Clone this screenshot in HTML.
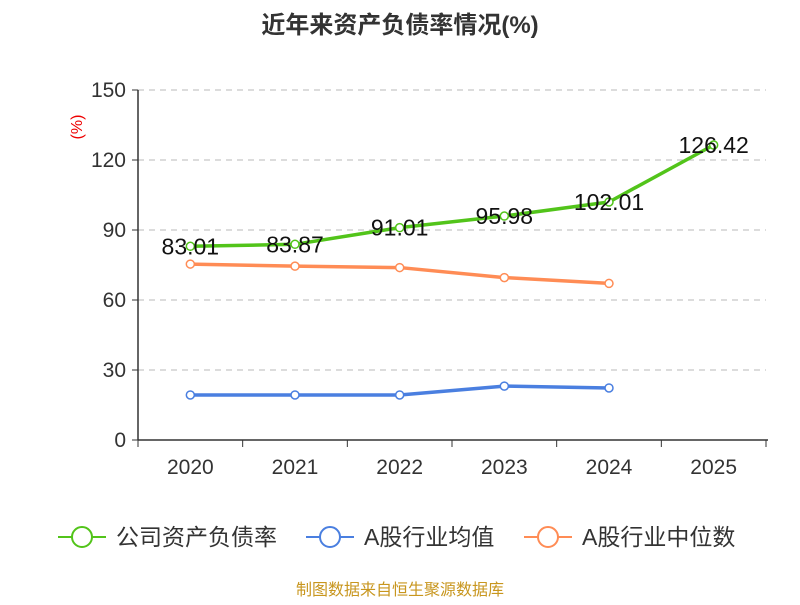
<!DOCTYPE html>
<html><head><meta charset="utf-8"><style>
body{margin:0;background:#fff;font-family:"Liberation Sans","Noto Sans CJK SC",sans-serif}
</style></head><body>
<svg id="c" width="800" height="600" xmlns="http://www.w3.org/2000/svg">
<text x="400" y="33" text-anchor="middle" font-size="24" font-weight="bold" fill="#333" font-family="Liberation Sans,Noto Sans CJK SC,sans-serif">近年来资产负债率情况(%)</text>
<text x="82" y="127" transform="rotate(-90 82 127)" text-anchor="middle" font-size="16" fill="#e00">(%)</text>
<g id="grid"></g><g id="axes"></g><g id="series"></g>
<g font-size="23" fill="#333" font-family="Liberation Sans,Noto Sans CJK SC,sans-serif">
<g><line x1="58" y1="537" x2="106" y2="537" stroke="#52c41a" stroke-width="2"/><circle cx="82" cy="537" r="10" fill="#fff" stroke="#52c41a" stroke-width="2"/><text x="116" y="545">公司资产负债率</text></g>
<g><line x1="306" y1="537" x2="354" y2="537" stroke="#4a7fe0" stroke-width="2"/><circle cx="330" cy="537" r="10" fill="#fff" stroke="#4a7fe0" stroke-width="2"/><text x="364" y="545">A股行业均值</text></g>
<g><line x1="524" y1="537" x2="572" y2="537" stroke="#ff8c55" stroke-width="2"/><circle cx="548" cy="537" r="10" fill="#fff" stroke="#ff8c55" stroke-width="2"/><text x="582" y="545">A股行业中位数</text></g>
</g>
<text x="400" y="595" text-anchor="middle" font-size="16" fill="#c8961e" font-family="Liberation Sans,Noto Sans CJK SC,sans-serif">制图数据来自恒生聚源数据库</text>
</svg>
<script>
const categories=["2020","2021","2022","2023","2024","2025"];
const companyValues=[83.01,83.87,91.01,95.98,102.01,126.42];
const industryAvg=[19.3,19.3,19.3,23.1,22.3];
const industryMedian=[75.4,74.5,73.9,69.6,67.1];
const yTicks=[0,30,60,90,120,150];
const NS="http://www.w3.org/2000/svg";
const x0=138,x1=766,yTop=90,yBot=440;
const band=(x1-x0)/categories.length;
const X=i=>x0+band*(i+0.5);
const Y=v=>yBot-(v/150)*(yBot-yTop);
function mk(tag,attrs,parent,text){const e=document.createElementNS(NS,tag);for(const k in attrs)e.setAttribute(k,attrs[k]);if(text!==undefined)e.textContent=text;parent.appendChild(e);return e;}
const grid=document.getElementById('grid'),axes=document.getElementById('axes'),ser=document.getElementById('series');
yTicks.forEach(t=>{
 if(t>0){const g=mk('line',{x1:x0,x2:x1,y1:Y(t),y2:Y(t),stroke:'#c8c8c8','stroke-dasharray':'6,5','stroke-width':1.3},grid);
 
 }
 mk('line',{x1:x0-6,x2:x0,y1:Y(t),y2:Y(t),stroke:'#333'},axes);
 const l=mk('text',{x:x0-12,y:Y(t)+7,'text-anchor':'end','font-size':21,fill:'#333'},axes,t);
 
 
});
mk('line',{x1:x0,x2:x0,y1:yTop,y2:yBot,stroke:'#333','stroke-width':1.5},axes);
mk('line',{x1:x0,x2:x1+2,y1:yBot,y2:yBot,stroke:'#333','stroke-width':1.5},axes);
for(let i=0;i<=categories.length;i++)mk('line',{x1:x0+band*i,x2:x0+band*i,y1:yBot,y2:yBot+7,stroke:'#333'},axes);
categories.forEach((c,i)=>{const l=mk('text',{x:X(i),y:474,'text-anchor':'middle','font-size':21,fill:'#333'},axes,c);
 
 });
function series(vals,color,name,labels){
 const p=mk('polyline',{points:vals.map((v,i)=>X(i)+','+Y(v)).join(' '),fill:'none',stroke:color,'stroke-width':3.5,'stroke-linejoin':'round'},ser);
 
 
 vals.forEach((v,i)=>{const c=mk('circle',{cx:X(i),cy:Y(v),r:4,fill:'#fff',stroke:color,'stroke-width':1.5},ser);
  
  
  if(labels){const t=mk('text',{x:X(i),y:Y(v)+8,'text-anchor':'middle','font-size':23,fill:'#111'},ser,v.toFixed(2));
  
  }});
}
series(industryMedian,'#ff8c55','industry-median',false);
series(industryAvg,'#4a7fe0','industry-avg',false);
series(companyValues,'#52c41a','company',true);
</script>
</body></html>
